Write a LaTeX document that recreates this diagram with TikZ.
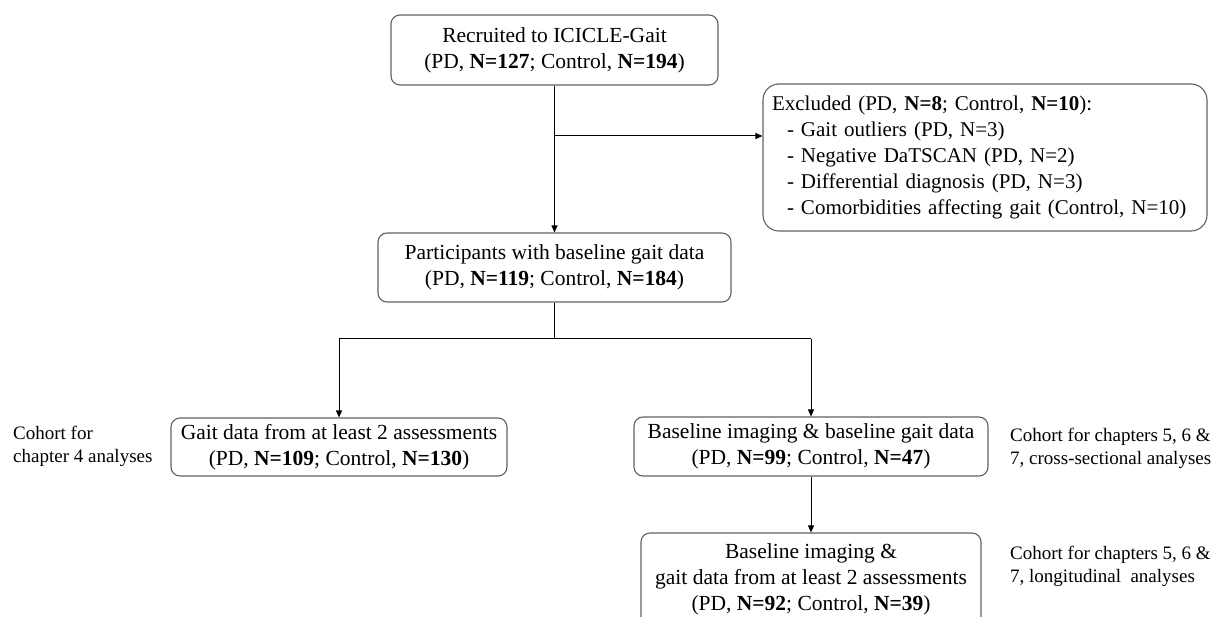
\documentclass[tikz,border=0pt]{standalone}
\usepackage{fontspec}
\setmainfont{Liberation Serif}
\usetikzlibrary{arrows.meta,calc}
\begin{document}
\begin{tikzpicture}[x=1pt,y=-1pt,
  box/.style={draw=black!62, line width=1.1pt, rounded corners=9pt, align=center,
    font=\fontsize{21.5}{26}\selectfont, inner sep=0pt},
  side/.style={align=left, inner sep=0pt, font=\fontsize{19}{23}\selectfont, anchor=west},
  conn/.style={draw=black, line width=1pt},
  arr/.style={conn, -{Triangle[length=7pt,width=6pt]}}]
\useasboundingbox (0,0) rectangle (1216,617);
\clip (0,0) rectangle (1216,617);

\node[box, minimum width=327pt, minimum height=70pt] (b1) at (554.5,50)
  {Recruited to ICICLE-Gait\\(PD, \textbf{N=127}; Control, \textbf{N=194})};

\node[box, rounded corners=16pt, minimum width=444pt, minimum height=147pt,
  text width=426pt, align=left, inner xsep=9pt, font=\fontsize{21}{25.8}\selectfont] (ex) at (985,157.5)
  {Excluded (PD, \textbf{N=8}; Control, \textbf{N=10}):\\
   \hspace*{15pt}- Gait outliers (PD, N=3)\\
   \hspace*{15pt}- Negative DaTSCAN\ (PD, N=2)\\
   \hspace*{15pt}- Differential diagnosis\ (PD, N=3)\\
   \hspace*{15pt}- Comorbidities\ affecting gait (Control, N=10)};

\node[box, minimum width=353pt, minimum height=69pt] (b2) at (554.5,267.5)
  {Participants with baseline gait data\\(PD, \textbf{N=119}; Control, \textbf{N=184})};

\node[box, minimum width=336pt, minimum height=58pt] (b3) at (339,447)
  {Gait data from at least 2 assessments\\(PD, \textbf{N=109}; Control, \textbf{N=130})};

\node[box, minimum width=354pt, minimum height=59pt] (b4) at (811,446.5)
  {Baseline imaging \& baseline gait data\\(PD, \textbf{N=99}; Control, \textbf{N=47})};

\node[box, minimum width=340pt, minimum height=114pt] (b5) at (811,590)
  {Baseline imaging \&\\gait data from at least 2 assessments\\(PD, \textbf{N=92}; Control, \textbf{N=39})\\ ~};

\node[side] (s3) at (13,446.5) {Cohort for\\chapter 4 analyses};
\node[side] (s4) at (1010,448.5) {Cohort for chapters 5, 6 \&\\7, cross-sectional analyses};
\node[side] (s5) at (1010,566.5) {Cohort for chapters 5, 6 \&\\7, longitudinal\ \ analyses};

\coordinate (j1) at (554.5,136);
\coordinate (j2) at (554.5,339);

\draw[arr] (b1.south) -- (b2.north);
\draw[arr] (j1) -- (j1 -| ex.west);
\draw[conn] (b2.south) -- (j2);
\draw[conn] (b3.north |- j2) -- (b4.north |- j2);
\draw[arr] (b3.north |- j2) -- (b3.north);
\draw[arr] (b4.north |- j2) -- (b4.north);
\draw[arr] (b4.south) -- (b5.north);
\end{tikzpicture}
\end{document}
